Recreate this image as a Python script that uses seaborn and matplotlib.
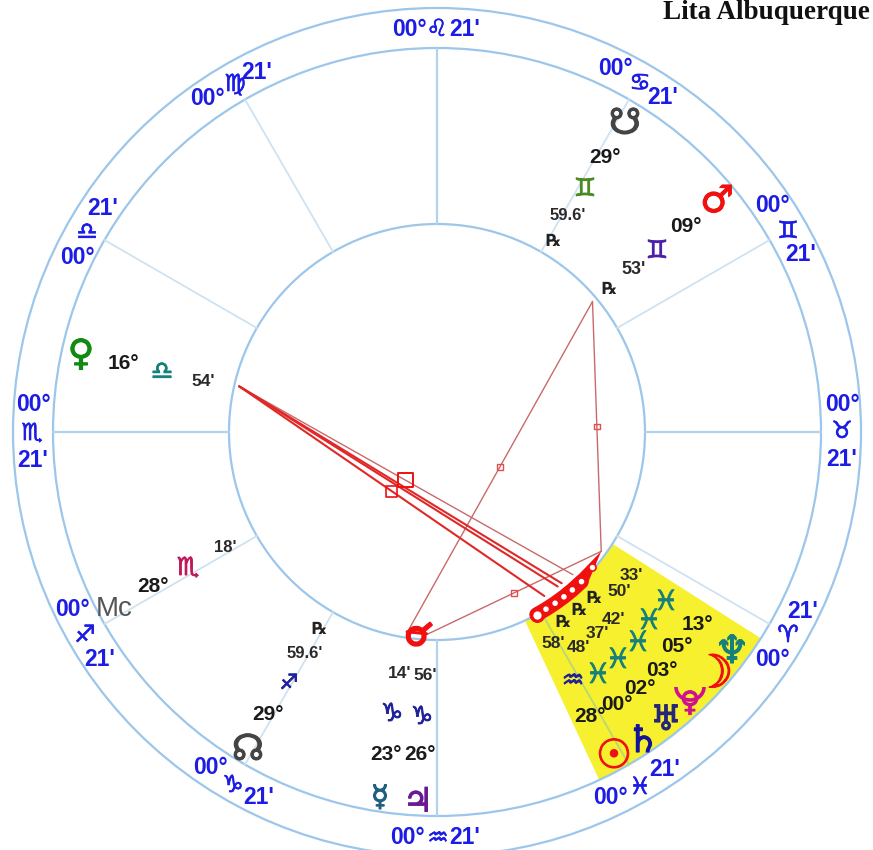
import numpy as np
import pandas as pd
import matplotlib.pyplot as plt
import matplotlib.patheffects as pe
from matplotlib.patches import Arc
import seaborn as sns

# house cusps on the wheel, counter clockwise from the right side
cusp_angles = [0, 30, 60, 90, 120, 150, 180, 210, 240, 270, 300, 330]
cusp_signs = ['♉', '♊', '♋', '♌', '♍', '♎', '♏', '♐', '♑', '♒', '♓', '♈']
cusp_degree = "00°"
cusp_minute = "21'"

# aspect line end points on the inner circle
venus_angle = 167
mars_angle = 40
mercury_angle = 261.5
mercury_side_angle = 267
neptune_angle = 324
cluster_angles = [298.6, 301.6, 304.6, 307.6, 310.6, 314]
neptune_ring_angle = 319
venus_targets = [303.2, 308, 309.5, 313.6]

# planet rows: glyph, degree, sign, minutes, retrograde mark
# (the Pluto glyph is the cross and circle of the venus sign, its cup is drawn on top)
planet_glyphs = ['☋', '♂', '♀', '☊', '☿', '♃', '♆', '☽', '♀', '♅', '♄', '☉']
planet_degrees = ['29°', '09°', '16°', '29°', '23°', '26°', '13°', '05°', '03°', '02°', '00°', '28°']
planet_signs = ['♊', '♊', '♎', '♐', '♑', '♑', '♓', '♓', '♓', '♓', '♓', '♒']
planet_minutes = ["59.6'", "53'", "54'", "59.6'", "14'", "56'", "33'", "50'", "42'", "37'", "48'", "58'"]

plt.rcParams['font.family'] = ['Liberation Sans', 'DejaVu Sans']
sns.set_style('white')
plt.rcParams['font.family'] = ['Liberation Sans', 'DejaVu Sans']

CX, CY = 437, 432
R_INNER, R_MID, R_OUTER = 208, 384, 424
R_ASPECT = 203
RING = '#9cc6ea'
BLUE = '#1c1ce6'
RED = '#f01010'
ASPECT = '#c86a6a'
NAVY = '#20209a'
TEAL = '#16807a'

# label placement, in picture pixels
cusp_label_xy = {
    0: [(842, 404), (842, 431), (842, 459)],
    30: [(772, 205), (788, 231), (801, 254)],
    60: [(615, 68), (640, 83), (663, 97)],
    90: [(409, 29), (437, 29), (465, 29)],
    120: [(207, 98), (235, 84), (257, 72)],
    150: [(77, 257), (87, 232), (103, 208)],
    180: [(33, 404), (32, 433), (33, 460)],
    210: [(72, 610), (85, 635), (100, 659)],
    240: [(210, 768), (233, 785), (259, 797)],
    270: [(407, 838), (438, 838), (465, 838)],
    300: [(610, 798), (640, 787), (665, 770)],
    330: [(772, 659), (788, 635), (803, 611)],
}
glyph_xy = [(625, 124), (717, 202), (81, 355), (248, 750), (380, 798), (418, 802),
            (732, 652), (713, 675), (690, 703), (666, 720), (643, 742), (614, 757)]
degree_xy = [(605, 157), (686, 226), (123, 363), (268, 715), (386, 754), (420, 755),
             (697, 625), (677, 647), (662, 670), (640, 688), (617, 705), (590, 717)]
sign_xy = [(585, 189), (657, 251), (162, 372), (289, 683), (392, 714), (422, 717),
           (666, 602), (649, 621), (638, 643), (618, 660), (598, 675), (573, 681)]
minute_xy = [(568, 215), (634, 270), (203, 381), (305, 654), (400, 673), (425, 675),
             (631, 575), (619, 592), (613, 619), (597, 633), (578, 647), (553, 644)]
retro_xy = [(553, 241), (609, 289), (319, 629), (594, 598), (579, 610), (563, 622)]

glyph_colors = ['#444444', RED, '#108a10', '#444444', '#1f5f80', '#6a1a90',
                TEAL, RED, '#d0108c', '#26267a', '#14149a', RED]
sign_colors = ['#4a8a20', '#4a20a8', TEAL, NAVY, NAVY, NAVY,
               TEAL, TEAL, TEAL, TEAL, TEAL, NAVY]
glyph_sizes = [26, 27, 26, 26, 21, 24, 28, 33, 20, 25, 27, 29]
sign_sizes = [18, 18, 18, 15, 18, 18, 20, 20, 20, 20, 20, 18]
minute_sizes = [12, 13, 12.5, 12, 12.5, 12.5, 12.5, 12.5, 12.5, 12.5, 12.5, 12.5]


def to_xy(angle, radius=R_ASPECT):
    rad = np.deg2rad(angle)
    return CX + radius * np.cos(rad), CY - radius * np.sin(rad)


def segments(pairs):
    rows = []
    for i, (a, b) in enumerate(pairs):
        rows.append({'seg': i, 'x': a[0], 'y': a[1]})
        rows.append({'seg': i, 'x': b[0], 'y': b[1]})
    return pd.DataFrame(rows)


def draw_segments(ax, pairs, color, lw, zorder=3):
    sns.lineplot(data=segments(pairs), x='x', y='y', units='seg', estimator=None,
                 sort=False, color=color, linewidth=lw, ax=ax, legend=False, zorder=zorder)


def heavy(color, width=0.6):
    return [pe.withStroke(linewidth=width, foreground=color)]


fig = plt.figure(figsize=(8.73, 8.5), dpi=100)
ax = fig.add_axes([0, 0, 1, 1])

# yellow sector
theta = np.linspace(-32.5, -65, 40)
sx = np.r_[CX + R_MID * np.cos(np.deg2rad(theta)), CX + R_INNER * np.cos(np.deg2rad(theta[::-1]))]
sy = np.r_[CY - R_MID * np.sin(np.deg2rad(theta)), CY - R_INNER * np.sin(np.deg2rad(theta[::-1]))]
ax.fill(sx, sy, color='#f7f02e', lw=0, zorder=1)

# rings
for r in [R_INNER, R_MID, R_OUTER]:
    ax.add_patch(plt.Circle((CX, CY), r, fill=False, color=RING, lw=1.6, zorder=2))

# cusp lines
light = [(to_xy(a, R_INNER), to_xy(a, R_MID)) for a in cusp_angles if a not in (0, 90, 180, 270, 300)]
axis = [(to_xy(a, R_INNER), to_xy(a, R_MID)) for a in cusp_angles if a in (0, 90, 180, 270)]
draw_segments(ax, light, '#cfe2f1', 1.3)
draw_segments(ax, axis, '#b3d2ec', 1.6)
draw_segments(ax, [(to_xy(300, R_INNER), to_xy(300, R_MID))], '#b7d676', 1.3)

# aspect lines
thin = [(to_xy(mars_angle), to_xy(mercury_angle)),
        (to_xy(mars_angle), to_xy(neptune_angle)),
        (to_xy(mercury_side_angle), to_xy(neptune_angle)),
        (to_xy(venus_angle), to_xy(venus_targets[3], 197))]
draw_segments(ax, thin, ASPECT, 1.0)
draw_segments(ax, [(to_xy(venus_angle), to_xy(a, 196)) for a in venus_targets[:3]], '#e02828', 1.5)

# small marks at the middle of the aspect lines
mids = pd.DataFrame([np.mean(p, axis=0) for p in thin[:3]], columns=['x', 'y'])
sns.scatterplot(data=mids, x='x', y='y', marker='s', s=16, color='none', edgecolor='#e05050',
                linewidth=1, ax=ax, legend=False, zorder=4)
quad = pd.DataFrame([np.mean([to_xy(venus_angle), to_xy(a, 196)], axis=0) for a in venus_targets],
                    columns=['x', 'y'])
sns.scatterplot(data=quad.iloc[[0]], x='x', y='y', marker='s', s=65, color='none',
                edgecolor=RED, linewidth=1.2, ax=ax, legend=False, zorder=4)
sns.scatterplot(data=quad.iloc[[3]], x='x', y='y', marker='s', s=110, color='none',
                edgecolor=RED, linewidth=1.4, ax=ax, legend=False, zorder=4)

# red cluster on the inner circle
ring_df = pd.DataFrame([to_xy(a, 208) for a in cluster_angles], columns=['x', 'y'])
sns.lineplot(data=ring_df, x='x', y='y', sort=False, estimator=None, color=RED, linewidth=10.5,
             ax=ax, legend=False, zorder=5)
tip = np.array([to_xy(cluster_angles[-1], 201), to_xy(cluster_angles[-1], 215), to_xy(neptune_angle)])
ax.fill(tip[:, 0], tip[:, 1], color=RED, lw=0, zorder=5)
sns.scatterplot(data=ring_df.iloc[[0]], x='x', y='y', s=70, color='white', edgecolor=RED, linewidth=2.4,
                ax=ax, legend=False, zorder=6)
sns.scatterplot(data=ring_df.iloc[1:], x='x', y='y', s=16, color='white', edgecolor='none',
                ax=ax, legend=False, zorder=6)
nep_ring = pd.DataFrame([to_xy(neptune_ring_angle, 206)], columns=['x', 'y'])
sns.scatterplot(data=nep_ring, x='x', y='y', s=26, color='white', edgecolor=RED, linewidth=1.2,
                ax=ax, legend=False, zorder=6)

# conjunction glyph at the lower end
ax.text(417, 636, '☌', color=RED, fontsize=27, rotation=-20, ha='center', va='center', zorder=7,
        family=['DejaVu Sans'], path_effects=heavy(RED, 1.4))
draw_segments(ax, [(to_xy(mercury_angle, 202), to_xy(mercury_side_angle, 202))], RED, 2.2, zorder=7)

# cusp labels
for a, s in zip(cusp_angles, cusp_signs):
    (x0, y0), (x1, y1), (x2, y2) = cusp_label_xy[a]
    ax.text(x0, y0, cusp_degree, color=BLUE, fontsize=16.5, fontweight='bold', ha='center', va='center', zorder=8)
    ax.text(x1, y1, s, color=BLUE, fontsize=17, ha='center', va='center', zorder=8, family=['DejaVu Sans'],
            path_effects=heavy(BLUE, 0.5))
    ax.text(x2, y2, cusp_minute, color=BLUE, fontsize=16.5, fontweight='bold', ha='center', va='center', zorder=8)

# planet rows
for i, g in enumerate(planet_glyphs):
    ax.text(*glyph_xy[i], g, color=glyph_colors[i], fontsize=glyph_sizes[i], fontweight='bold',
            ha='center', va='center', zorder=8, family=['DejaVu Sans'],
            path_effects=heavy(glyph_colors[i], 0.8))
    ax.text(*degree_xy[i], planet_degrees[i], color='#1a1a1a', fontsize=15, fontweight='bold',
            ha='center', va='center', zorder=8)
    ax.text(*sign_xy[i], planet_signs[i], color=sign_colors[i], fontsize=sign_sizes[i],
            ha='center', va='center', zorder=8, family=['DejaVu Sans'],
            path_effects=heavy(sign_colors[i], 0.6))
    ax.text(*minute_xy[i], planet_minutes[i], color='#2a2a2a', fontsize=minute_sizes[i], fontweight='bold',
            ha='center', va='center', zorder=8)
for xy in retro_xy:
    ax.text(*xy, '℞', color='#222222', fontsize=12, fontweight='bold', ha='center', va='center',
            zorder=8, family=['DejaVu Sans'])

# cup of the Pluto glyph
ax.add_patch(Arc((690, 687), 28, 26, theta1=0, theta2=180, color=glyph_colors[8], lw=2.6, zorder=8))

# midheaven row
ax.text(114, 609, 'Mc', color='#555555', fontsize=20, ha='center', va='center', zorder=8)
ax.text(153, 586, '28°', color='#1a1a1a', fontsize=15, fontweight='bold', ha='center', va='center', zorder=8)
ax.text(188, 568, '♏', color='#c0185a', fontsize=18, ha='center', va='center', zorder=8, family=['DejaVu Sans'],
        path_effects=heavy('#c0185a', 0.6))
ax.text(225, 547, "18'", color='#2a2a2a', fontsize=12, fontweight='bold', ha='center', va='center', zorder=8)

ax.text(870, 19, 'Lita Albuquerque', color='#111111', fontsize=19.5, fontweight='bold', ha='right', va='baseline',
        family=['Liberation Serif'])

ax.set_xlim(0, 873)
ax.set_ylim(850, 0)
ax.axis('off')
fig.savefig('out.png', dpi=100)
